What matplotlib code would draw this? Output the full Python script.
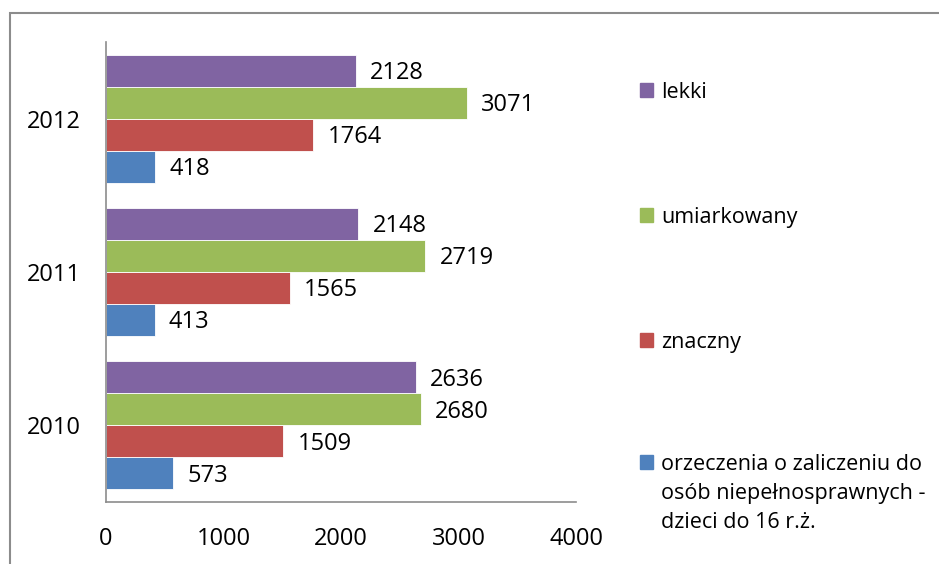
import numpy as np
import matplotlib
matplotlib.use('Agg')
import matplotlib.pyplot as plt
from matplotlib.patches import Rectangle

plt.rcParams['font.family'] = ['Open Sans', 'DejaVu Sans']

# ---- data ----
years = ['2010', '2011', '2012']
series_names = ['orzeczenia o zaliczeniu do\nosób niepełnosprawnych -\ndzieci do 16 r.ż.',
                'znaczny', 'umiarkowany', 'lekki']
orzeczenia = [573, 413, 418]
znaczny = [1509, 1565, 1764]
umiarkowany = [2680, 2719, 3071]
lekki = [2636, 2148, 2128]
colors = ['#4F81BD', '#C0504D', '#9BBB59', '#8064A2']

series = [orzeczenia, znaczny, umiarkowany, lekki]

fig = plt.figure(figsize=(9.39, 5.64), dpi=100)
ax = fig.add_axes([106 / 939, 1 - 502 / 564, (576 - 106) / 939, (502 - 42) / 564])

bar_h = 0.209
y = np.arange(len(years))
for k, (vals, col) in enumerate(zip(series, colors)):
    pos = y + (k - 1.5) * bar_h
    ax.barh(pos, vals, height=bar_h, color=col, edgecolor='white',
            linewidth=0.6, label=series_names[k])
    for p, v in zip(pos, vals):
        ax.text(v + 120, p - 0.015, str(v), va='center', ha='left', fontsize=17)

ax.set_xlim(0, 4000)
ax.set_ylim(-0.5, 2.5)
ax.set_xticks([0, 1000, 2000, 3000, 4000])
ax.set_yticks(y)
ax.set_yticklabels(years)
ax.tick_params(axis='both', length=0, labelsize=17)
ax.tick_params(axis='x', pad=18)
ax.tick_params(axis='y', pad=18)
for s in ['top', 'right']:
    ax.spines[s].set_visible(False)
for s in ['left', 'bottom']:
    ax.spines[s].set_color('#8c8c8c')
    ax.spines[s].set_linewidth(1.2)

# legend (manual, top to bottom)
leg_y = [90, 215, 340, 462]
for name, col, ly in zip(series_names[::-1], colors[::-1], leg_y):
    fig.patches.append(Rectangle((640 / 939, 1 - (ly + 7) / 564), 13 / 939, 14 / 564,
                                 transform=fig.transFigure, color=col))
    fig.text(661 / 939, 1 - (ly - 8) / 564, name, va='top', ha='left',
             fontsize=15.5, linespacing=1.5)

# outer border
fig.patches.append(Rectangle((10 / 939, -0.1), 1.2, 1 - 13 / 564 + 0.1,
                             transform=fig.transFigure, fill=False,
                             edgecolor='#8c8c8c', linewidth=1.5))

fig.savefig('out.png', dpi=100)
